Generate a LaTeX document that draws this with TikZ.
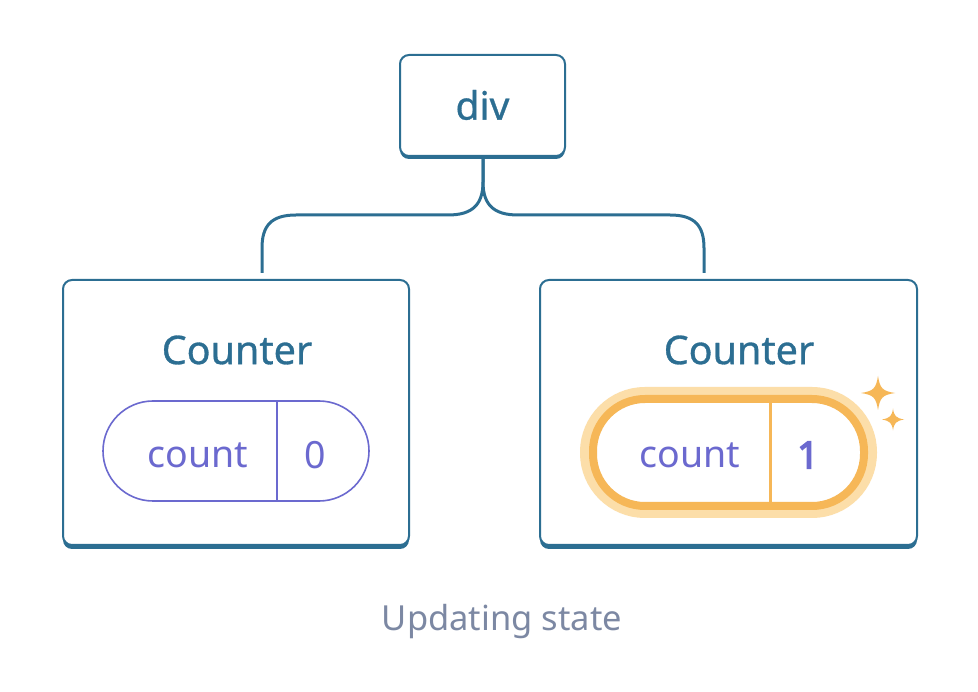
\documentclass[tikz,border=0pt]{standalone}
\usepackage{fontspec}
\setmainfont{Noto Sans}
\newfontfamily\medfont[FakeBold=0.8]{Noto Sans}
\newfontfamily\heavyfont[FakeBold=4]{Noto Sans}
\definecolor{teal}{HTML}{2C6E92}
\definecolor{purp}{HTML}{6B69CF}
\definecolor{orng}{HTML}{F6B757}
\definecolor{glow}{HTML}{FCDEA9}
\definecolor{capt}{HTML}{7C88A3}
\tikzset{
  box/.style={draw=teal, line width=2pt, fill=white, rounded corners=9pt},
  boxshadow/.style={fill=teal, rounded corners=9pt},
  wire/.style={draw=teal, line width=3pt},
  lbl/.style={text=teal, font=\medfont\fontsize{39.5}{42}\selectfont, inner sep=0},
  pilltext/.style={text=purp, font=\fontsize{37.5}{40}\selectfont, inner sep=0},
  spark/.style={fill=orng, draw=none}
}
\begin{document}
\begin{tikzpicture}[x=1pt,y=-1pt]
\useasboundingbox (0,0) rectangle (978,692);
% div box
\fill[boxshadow] (400,58) rectangle (565,159);
\draw[box] (400,55) rectangle (565,156);
\node[lbl, font=\medfont\fontsize{39}{42}\selectfont] (div) at (482.5,105) {div};
\coordinate (dbot) at (483,157);
\coordinate (lj) at (262,273);
\coordinate (rj) at (704,273);
% connectors
\draw[wire] (dbot) -- (483,182) .. controls (483,205) and (472,215) .. (448,215) -- (296,215) .. controls (271,215) and (262,226) .. (262,248) -- (lj);
\draw[wire] (dbot) -- (483,182) .. controls (483,205) and (494,215) .. (518,215) -- (670,215) .. controls (695,215) and (704,226) .. (704,248) -- (rj);
% left counter
\fill[boxshadow] (63,284) rectangle (409,549);
\draw[box] (63,280) rectangle (409,545);
\node[lbl] (lc) at (237,350) {Counter};
\draw[purp, line width=1.6pt, fill=white, rounded corners=50pt] (103,401) rectangle (369,501);
\draw[purp, line width=1.6pt] (277,401) -- (277,501);
\node[pilltext] (lcount) at (198,455) {count};
\node[pilltext] (lzero) at (315,455) {0};
% right counter
\fill[boxshadow] (540,284) rectangle (917,549);
\draw[box] (540,280) rectangle (917,545);
\node[lbl] (rc) at (739,350) {Counter};
\draw[glow, line width=22pt, rounded corners=54pt] (591,398) rectangle (866,507);
\draw[orng, line width=8pt, fill=white, rounded corners=52pt] (593,399) rectangle (864,506);
\draw[orng, line width=3pt] (770,402) -- (770,503);
\node[pilltext] (rcount) at (690,455) {count};
\node[pilltext, font=\heavyfont\fontsize{37.5}{40}\selectfont] (rone) at (808,455) {1};
% sparkles
\path[spark] (878,376) .. controls (880,388) and (882,391) .. (895,393) .. controls (882,395) and (880,398) .. (878,410) .. controls (876,398) and (874,395) .. (861,393) .. controls (874,391) and (876,388) .. cycle;
\path[spark] (893,408.5) .. controls (894,416) and (896,418) .. (904,419.5) .. controls (896,421) and (894,423) .. (893,430.5) .. controls (892,423) and (890,421) .. (882,419.5) .. controls (890,418) and (892,416) .. cycle;
% caption
\node[text=capt, font=\fontsize{34.5}{38}\selectfont, inner sep=0] (cap) at (502,622) {Updating state};
\end{tikzpicture}
\end{document}
